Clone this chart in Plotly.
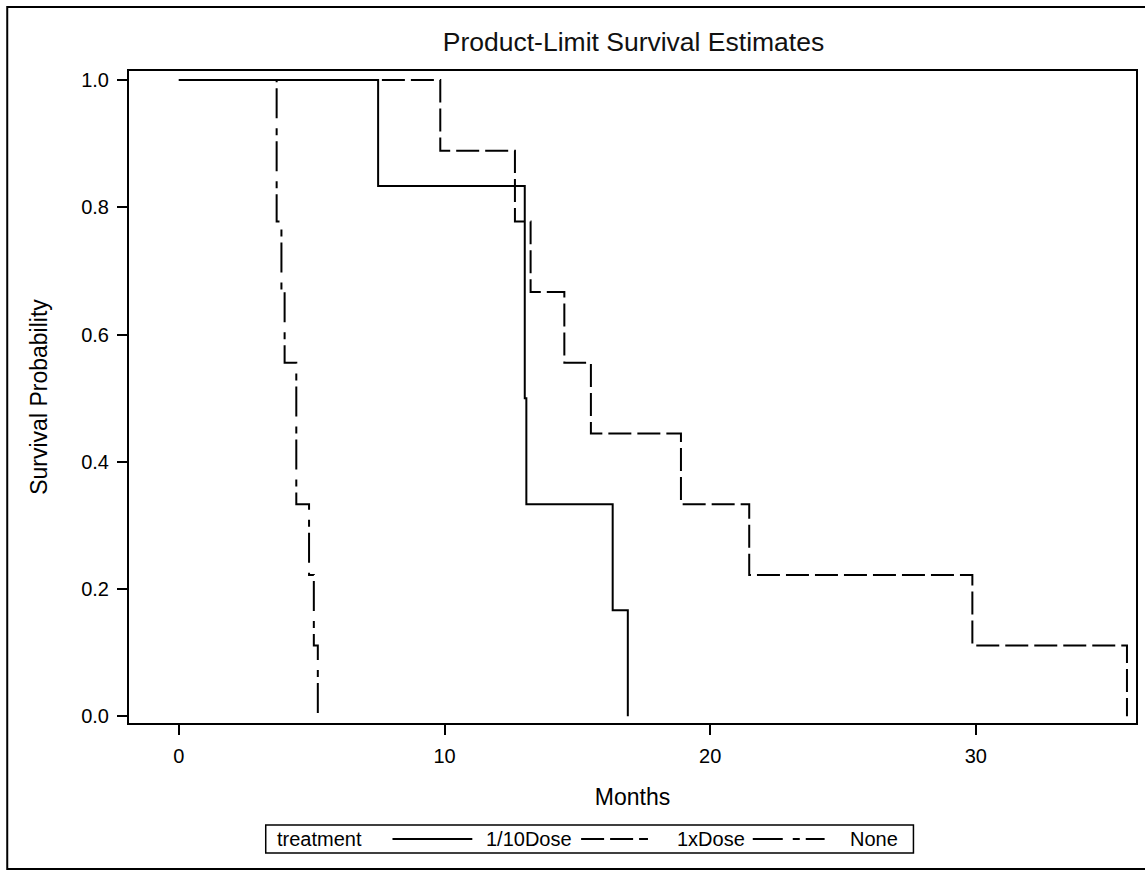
import plotly.graph_objects as go

# Kaplan-Meier step data (time in months, survival probability)
groups = ["1/10Dose", "1xDose", "None"]
legend_title = "treatment"

t_tenth = [0, 7.5, 13.02, 13.08, 16.33, 16.9]
s_tenth = [1.0, 0.8333, 0.5, 0.3333, 0.1667, 0.0]

t_one = [0, 9.84, 12.65, 13.24, 14.51, 15.51, 18.9, 21.47, 29.87, 35.69]
s_one = [1.0, 0.8889, 0.7778, 0.6667, 0.5556, 0.4444, 0.3333, 0.2222, 0.1111, 0.0]

t_none = [0, 3.68, 3.86, 3.98, 4.42, 4.9, 5.08, 5.23]
s_none = [1.0, 0.7778, 0.6667, 0.5556, 0.3333, 0.2222, 0.1111, 0.0]

x_ticks = [0, 10, 20, 30]
y_ticks = [0.0, 0.2, 0.4, 0.6, 0.8, 1.0]
y_ticklabels = ["0.0", "0.2", "0.4", "0.6", "0.8", "1.0"]

FONT = "Arial, Liberation Sans, sans-serif"
INK = "#000000"
DASHES = ["solid", "23px,6px", "30px,10px,7px,6px"]

W, H = 1145, 871
L, R, T, B = 129, 7, 71, 148
pw = W - L - R
ph = H - T - B


def px(xp):
    return (xp - L) / pw


def py(yp):
    return (T + ph - yp) / ph


fig = go.Figure()
for name, t, s, dash in zip(groups, [t_tenth, t_one, t_none], [s_tenth, s_one, s_none], DASHES):
    fig.add_trace(go.Scatter(
        x=t, y=s, mode="lines", name=name, showlegend=False,
        line=dict(shape="hv", color=INK, width=2, dash=dash),
    ))

fig.update_layout(
    width=W, height=H,
    margin=dict(l=L, r=R, t=T, b=B, pad=0),
    paper_bgcolor="white", plot_bgcolor="white",
    font=dict(family=FONT, size=20, color=INK),
    title=dict(text="Product-Limit Survival Estimates", x=633.5 / W, xanchor="center",
               y=1 - 42 / H, yanchor="middle", font=dict(size=26.5, family=FONT, color="#111")),
    showlegend=False,
    xaxis=dict(
        range=[-1.878, 36.03], tickvals=x_ticks, ticks="outside", ticklen=10, tickwidth=1.5,
        tickcolor=INK, showline=True, linecolor=INK, linewidth=2, mirror=True,
        showgrid=False, zeroline=False, tickfont=dict(size=20), ticklabelstandoff=4,
        title=dict(text="Months", standoff=23, font=dict(size=23)),
    ),
    yaxis=dict(
        range=[-0.0105, 1.01415], tickvals=y_ticks, ticktext=y_ticklabels, ticks="outside",
        ticklen=10, tickwidth=1.5, tickcolor=INK, showline=True, linecolor=INK, linewidth=2,
        mirror=True, showgrid=False, zeroline=False, tickfont=dict(size=20), ticklabelstandoff=4,
        title=dict(text="Survival Probability", standoff=27, font=dict(size=23)),
    ),
)

# outer frame around the whole graph
fig.add_shape(type="rect", xref="paper", yref="paper",
              x0=px(7), x1=px(W + 10), y0=py(869), y1=py(7),
              line=dict(color=INK, width=2), layer="below")

# legend (drawn as a boxed row below the axis)
box_x0, box_x1, box_y0, box_y1 = 266, 915, 825, 853
ymid = (box_y0 + box_y1) / 2
fig.add_shape(type="rect", xref="paper", yref="paper",
              x0=px(box_x0), x1=px(box_x1), y0=py(box_y1), y1=py(box_y0),
              line=dict(color=INK, width=1.5), fillcolor="white")
fig.add_annotation(text=legend_title, xref="paper", yref="paper", x=px(275), y=py(ymid),
                   xanchor="left", yanchor="middle", showarrow=False, font=dict(size=20))
samples = [(393, 473, 485), (582, 649, 676), (754, 826, 849)]
for name, dash, (sx0, sx1, tx) in zip(groups, DASHES, samples):
    fig.add_shape(type="line", xref="paper", yref="paper",
                  x0=px(sx0), x1=px(sx1), y0=py(ymid), y1=py(ymid),
                  line=dict(color=INK, width=2, dash=dash))
    fig.add_annotation(text=name, xref="paper", yref="paper", x=px(tx), y=py(ymid),
                       xanchor="left", yanchor="middle", showarrow=False, font=dict(size=20))

fig.write_html("out.html", config={"displayModeBar": False},
               post_script="document.body.style.margin='0';")
